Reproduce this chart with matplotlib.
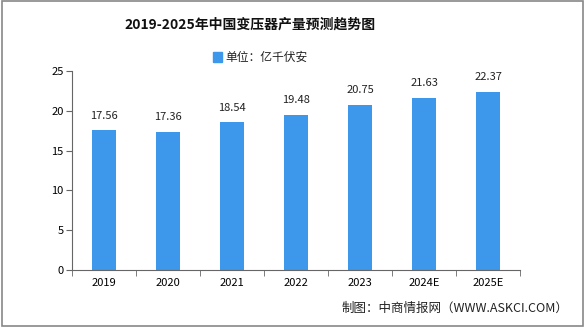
import matplotlib
matplotlib.use("Agg")
import matplotlib.pyplot as plt
from matplotlib.patches import Rectangle

plt.rcParams['font.family'] = ['Noto Sans CJK SC', 'DejaVu Sans']

categories = ["2019", "2020", "2021", "2022", "2023", "2024E", "2025E"]
values = [17.56, 17.36, 18.54, 19.48, 20.75, 21.63, 22.37]
yticks = [0, 5, 10, 15, 20, 25]

bar_color = "#3d97ea"

fig = plt.figure(figsize=(5.85, 3.27), dpi=100)
ax = fig.add_axes([0.123, 0.174, 0.766, 0.609])

x = list(range(len(categories)))
ax.bar(x, values, width=0.375, color=bar_color, zorder=2)
for xi, v in zip(x, values):
    ax.text(xi, v + 1.2, f"{v:.2f}", ha="center", va="bottom", fontsize=8, color="#222222")

ax.set_xlim(-0.5, len(categories) - 0.5)
ax.set_ylim(0, 25)
ax.set_yticks(yticks)
ax.set_yticklabels([str(t) for t in yticks], fontsize=8)
ax.set_xticks(x)
ax.set_xticklabels(categories, fontsize=8)
ax.set_xticks([i - 0.5 for i in range(len(categories) + 1)], minor=True)
ax.tick_params(axis="x", which="major", length=0, pad=6)
ax.tick_params(axis="x", which="minor", length=4, color="#666666")
ax.tick_params(axis="y", length=4, color="#666666", pad=2)
for s in ["top", "right"]:
    ax.spines[s].set_visible(False)
ax.spines["left"].set_color("#666666")
ax.spines["bottom"].set_color("#666666")

fig.text(0.427, 0.924, "2019-2025年中国变压器产量预测趋势图", ha="center", va="center",
         fontsize=10, fontweight="bold", color="#111111")
fig.patches.append(Rectangle((0.364, 0.81), 0.016, 0.03, transform=fig.transFigure,
                             color=bar_color))
fig.text(0.385, 0.825, "单位：亿千伏安", ha="left", va="center", fontsize=8.5, color="#222222")
fig.text(0.972, 0.058, "制图：中商情报网（WWW.ASKCI.COM）", ha="right", va="center",
         fontsize=9, color="#222222")

fig.patches.append(Rectangle((0.003, 0.003), 0.994, 0.994, transform=fig.transFigure,
                             fill=False, edgecolor="#888888", linewidth=1.2))

fig.savefig("out.png", dpi=100)
